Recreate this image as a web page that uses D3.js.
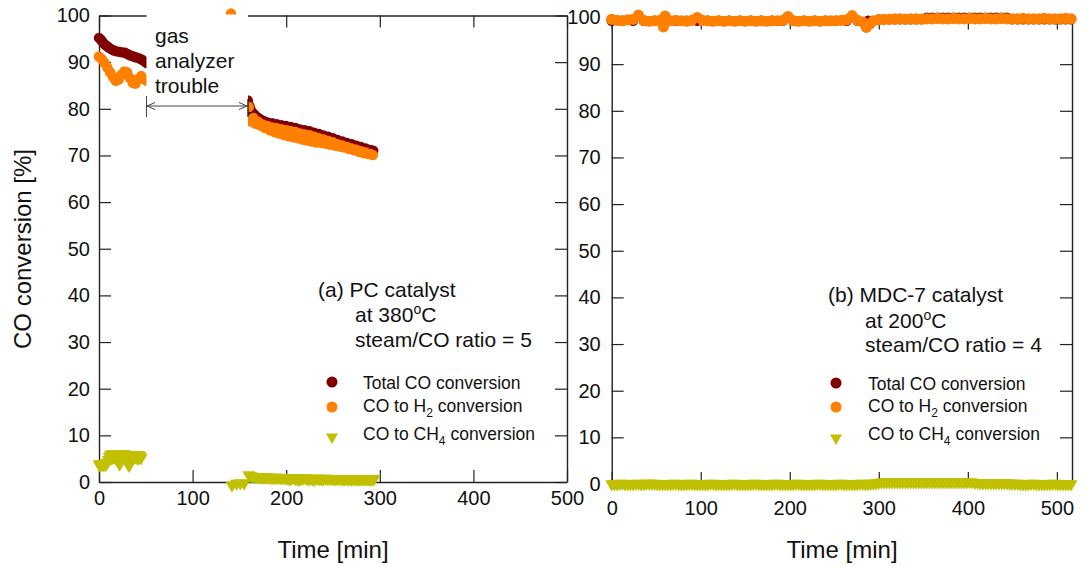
<!DOCTYPE html>
<html>
<head>
<meta charset="utf-8">
<script src="https://cdn.jsdelivr.net/npm/d3@7"></script>
<style>
  body { margin: 0; background: #fff; }
  svg { display: block; }
</style>
</head>
<body>
<svg id="chart" width="1088" height="567"></svg>
<script>
// ---------- data ----------
const xTicks = [0, 100, 200, 300, 400, 500];
const yTicks = [0, 10, 20, 30, 40, 50, 60, 70, 80, 90, 100];

// (a) PC catalyst, [time min, conversion %]
const leftTotal = [
  [0,95.2],[2,94.8],[4,94.3],[6,93.8],[8,93.5],[10,93.2],[13,92.8],[16,92.5],[19,92.3],[22,92.2],
  [25,92.1],[28,92.0],[31,91.7],[34,91.4],[37,91.2],[40,91.0],[43,90.8],[46,90.5],[49,90.1],[51,89.8],
  [159,81.8],[161,80.5],[163,79.5],[166,78.8],[169,78.2],[172,77.8],[176,77.4],[180,77.1],[185,76.9],
  [190,76.7],[195,76.5],[200,76.3],[205,76.1],[210,75.9],[215,75.6],[220,75.4],[225,75.2],[230,74.9],
  [235,74.6],[240,74.3],[245,74.0],[250,73.7],[255,73.3],[260,73.0],[265,72.7],[270,72.4],[275,72.1],
  [280,71.8],[285,71.5],[290,71.2],[293,71.0]
];
const leftH2 = [
  [0,91.2],[3,90.6],[6,89.8],[9,88.8],[12,87.8],[15,86.8],[18,86.0],[21,86.3],[24,87.3],[27,88.0],
  [30,87.8],[33,86.6],[36,85.6],[39,85.4],[42,86.4],[45,87.0],[48,86.4],[51,86.0],
  [141,100.4],
  [160,80.4],[162.5,77.3],[165,78.0],[167.5,76.8],[170,77.2],[172.5,76.4],[175,76.6],[177.5,75.9],
  [180,76.3],[182.5,75.4],[185,76.0],[187.5,75.0],[190,75.8],[192.5,74.7],[195,75.6],[197.5,74.4],
  [200,75.4],[202.5,74.1],[205,75.2],[207.5,73.9],[210,75.0],[212.5,73.7],[215,74.7],[217.5,73.4],
  [220,74.5],[222.5,73.2],[225,74.3],[227.5,73.0],[230,74.0],[232.5,72.8],[235,73.7],[237.5,72.7],
  [240,73.4],[242.5,72.5],[245,73.1],[247.5,72.3],[250,72.8],[252.5,72.1],[255,72.4],[257.5,71.9],
  [260,72.1],[262.5,71.7],[265,71.8],[267.5,71.4],[270,71.5],[272.5,71.1],[275,71.2],[277.5,70.8],
  [280,70.9],[282.5,70.5],[285,70.6],[287.5,70.3],[290,70.3],[292.5,70.1]
];
const leftCH4 = [
  [0,3.8],[1,3.6],[2,3.9],[3,3.7],[4,3.9],[5,3.7],[6,3.8],[7,3.7],[8,4.0],[9,4.2],[10,4.8],[11,5.4],
  [12,5.8],[13,5.0],[14,6.0],[15,5.2],[16,6.0],[17,5.4],[18,5.8],[19,4.8],[20,5.4],[21,4.2],[22,3.8],
  [23,4.6],[24,5.6],[25,6.0],[26,5.2],[27,6.0],[28,5.4],[29,5.8],[30,4.8],[31,4.0],[32,3.5],[33,3.8],
  [34,4.6],[35,5.4],[36,5.8],[37,5.2],[38,5.8],[39,5.4],[40,5.8],[41,5.0],[42,5.8],[43,5.2],[44,5.7],
  [45,5.2],
  [142,-0.7],[147,-0.3],[151,-0.2],[155,-0.3],
  [160,1.5],[162,1.3],[164,1.2],[166,1.1],[168,1.1],[170,1.1],[172,1.0],[174,1.0],[176,1.0],[178,1.0],
  [180,1.0],[182,1.0],[184,0.9],[186,0.9],[188,0.9],[190,1.0],[192,0.9],[194,0.9],[196,0.9],[198,0.9],
  [200,0.8],[202,0.8],[204,0.6],[206,0.8],[208,0.9],[210,0.7],[212,0.6],[214,0.5],[216,0.7],[218,0.8],
  [220,0.9],[222,0.7],[224,0.6],[226,0.8],[228,0.6],[230,0.5],[232,0.8],[234,0.7],[236,0.7],[238,0.6],
  [240,0.7],[242,0.8],[244,0.7],[246,0.7],[248,0.7],[250,0.7],[252,0.6],[254,0.7],[256,0.7],[258,0.7],
  [260,0.6],[262,0.6],[264,0.7],[266,0.6],[268,0.6],[270,0.6],[272,0.6],[274,0.6],[276,0.6],[278,0.6],
  [280,0.6],[282,0.6],[284,0.6],[286,0.6],[288,0.6],[290,0.6],[292,0.6],[294,0.7]
];

// (b) MDC-7 catalyst
const rightTotal = [
  [0,99.3],[12,99.3],[24,99.3],[36,99.3],[48,99.3],[60,99.3],[72,99.3],[84,99.3],[96,99.3],[108,99.3],
  [120,99.3],[132,99.3],[144,99.3],[156,99.3],[168,99.3],[180,99.3],[192,99.3],[204,99.3],[216,99.3],
  [228,99.3],[240,99.3],[252,99.3],[264,99.3],[276,99.3],[288,99.3],
  [300,99.6],[306,99.6],[312,99.6],[318,99.6],[324,99.6],[330,99.6],[336,99.6],[342,99.6],[348,99.7],
  [354,99.95],[360,99.95],[366,99.95],[372,99.95],[378,99.95],[384,99.95],[390,99.95],[396,99.95],
  [402,99.95],[408,99.95],[414,99.95],[420,99.95],[426,99.95],[432,99.95],[438,99.95],[444,99.95],
  [450,99.6],[456,99.6],[462,99.6],[468,99.6],[474,99.6],[480,99.6],[486,99.6],[492,99.6],[498,99.6],
  [504,99.6],[510,99.6],[516,99.6]
];
const rightH2 = [
  [0,99.6],[6,99.4],[12,99.3],[18,99.5],[24,99.6],[30,100.5],[36,99.4],[42,99.2],[48,99.3],[54,99.4],
  [58,98.0],[60,100.3],[66,99.3],[72,99.4],[78,99.3],[84,99.2],[90,99.4],[96,100.0],[102,99.4],[108,99.3],
  [114,99.2],[120,99.3],[126,99.2],[132,99.3],[138,99.2],[144,99.3],[150,99.2],[156,99.3],[162,99.2],
  [168,99.3],[174,99.2],[180,99.3],[186,99.3],[192,99.4],[198,100.2],[204,99.3],[210,99.2],[216,99.3],
  [222,99.2],[228,99.3],[234,99.2],[240,99.3],[246,99.3],[252,99.3],[258,99.4],[264,99.5],[270,100.4],
  [276,99.4],[282,99.0],[286,97.9],[290,98.6],[294,99.3],[300,99.5],[306,99.6],[312,99.6],[318,99.7],
  [324,99.7],[330,99.6],[336,99.7],[342,99.7],[348,99.6],[354,99.7],[360,99.7],[366,99.8],[372,99.7],
  [378,99.7],[384,99.8],[390,99.7],[396,99.7],[402,99.8],[408,99.7],[414,99.7],[420,99.8],[426,99.7],
  [432,99.7],[438,99.8],[444,99.7],[450,99.7],[456,99.7],[462,99.8],[468,99.7],[474,99.7],[480,99.7],
  [486,99.8],[492,99.7],[498,99.7],[504,99.7],[510,99.8],[516,99.7]
];
const rightCH4 = [
  [0,0.0],[3,0.0],[6,0.0],[9,0.1],[12,0.1],[15,0.0],[18,0.0],[21,0.0],[24,0.0],[27,0.1],[30,0.1],
  [33,0.0],[36,0.0],[39,0.1],[42,0.1],[45,0.1],[48,0.1],[51,0.0],[54,0.0],[57,0.0],[60,0.0],[63,0.0],
  [66,0.0],[69,0.1],[72,0.1],[75,0.0],[78,0.0],[81,0.0],[84,0.0],[87,0.1],[90,0.1],[93,0.0],[96,0.0],
  [99,0.0],[102,0.0],[105,0.0],[108,0.0],[111,0.1],[114,0.1],[117,0.0],[120,0.0],[123,0.0],[126,0.0],
  [129,0.0],[132,0.0],[135,0.1],[138,0.1],[141,0.0],[144,0.0],[147,0.0],[150,0.0],[153,0.0],[156,0.0],
  [159,0.1],[162,0.1],[165,0.0],[168,0.0],[171,0.0],[174,0.0],[177,0.0],[180,0.0],[183,0.1],[186,0.1],
  [189,0.0],[192,0.0],[195,0.0],[198,0.0],[201,0.0],[204,0.0],[207,0.1],[210,0.1],[213,0.0],[216,0.0],
  [219,0.0],[222,0.0],[225,0.0],[228,0.0],[231,0.1],[234,0.1],[237,0.0],[240,0.0],[243,0.0],[246,0.0],
  [249,0.0],[252,0.0],[255,0.1],[258,0.1],[261,0.0],[264,0.0],[267,0.0],[270,0.0],[273,0.0],[276,0.0],
  [279,0.1],[282,0.1],[285,0.0],[288,0.0],[291,0.1],[294,0.1],[297,0.2],[300,0.3],[303,0.4],[306,0.4],
  [309,0.4],[312,0.4],[315,0.4],[318,0.4],[321,0.4],[324,0.4],[327,0.4],[330,0.4],[333,0.4],[336,0.4],
  [339,0.4],[342,0.4],[345,0.4],[348,0.4],[351,0.4],[354,0.4],[357,0.4],[360,0.4],[363,0.4],[366,0.4],
  [369,0.4],[372,0.4],[375,0.4],[378,0.4],[381,0.4],[384,0.4],[387,0.4],[390,0.4],[393,0.4],[396,0.4],
  [399,0.4],[402,0.4],[405,0.4],[408,0.3],[411,0.3],[414,0.2],[417,0.2],[420,0.2],[423,0.2],[426,0.2],
  [429,0.2],[432,0.2],[435,0.2],[438,0.2],[441,0.2],[444,0.2],[447,0.1],[450,0.1],[453,0.1],[456,0.1],
  [459,0.0],[462,0.0],[465,0.0],[468,0.0],[471,0.1],[474,0.1],[477,0.0],[480,0.0],[483,0.0],[486,0.0],
  [489,0.0],[492,0.0],[495,0.1],[498,0.1],[501,0.0],[504,0.0],[507,0.0],[510,0.0],[513,0.0],[516,0.0]
];

const legendLabels = ["Total CO conversion", "CO to H", "CO to CH"];
const legendSubs = ["", "2", "4"];

// ---------- setup ----------
const FONT = '"Liberation Sans", Arial, Helvetica, sans-serif';
const C_TOTAL = "#800000", C_H2 = "#ff8000", C_CH4 = "#c0c000";
const svg = d3.select("#chart").attr("font-family", FONT);

const xL = d3.scaleLinear().domain([0, 500]).range([99, 567]);
const yL = d3.scaleLinear().domain([0, 100]).range([482, 15.5]);
const xR = d3.scaleLinear().domain([0, 517]).range([611.7, 1072]);
const yR = d3.scaleLinear().domain([0, 100]).range([484, 17.5]);

// frame with inward ticks on all four sides
function drawFrame(x, y, padX, padY) {
  const [x0, x1] = x.range();
  const [y0, y1] = y.range();
  const g = svg.append("g");
  const styleAxis = a => {
    a.attr("font-family", FONT).attr("font-size", 20);
    a.selectAll("path.domain").attr("stroke", "#222").attr("stroke-width", 1.4);
    a.selectAll(".tick line").attr("stroke", "#222").attr("stroke-width", 1.2);
    a.selectAll(".tick text").attr("fill", "#111");
  };
  g.append("g").attr("transform", `translate(0,${y0})`)
    .call(d3.axisBottom(x).tickValues(xTicks).tickSize(-12).tickSizeOuter(0).tickPadding(padX))
    .call(styleAxis);
  g.append("g").attr("transform", `translate(0,${y1})`)
    .call(d3.axisTop(x).tickValues(xTicks).tickSize(-12).tickSizeOuter(0).tickFormat(""))
    .call(styleAxis);
  g.append("g").attr("transform", `translate(${x0},0)`)
    .call(d3.axisLeft(y).tickValues(yTicks).tickSize(-12).tickSizeOuter(0).tickPadding(padY))
    .call(styleAxis);
  g.append("g").attr("transform", `translate(${x1},0)`)
    .call(d3.axisRight(y).tickValues(yTicks).tickSize(-12).tickSizeOuter(0).tickFormat(""))
    .call(styleAxis);
}

function drawDots(data, x, y, color, r) {
  svg.append("g").selectAll("circle")
    .data(data).join("circle")
      .attr("cx", d => x(d[0]))
      .attr("cy", d => y(d[1]))
      .attr("r", r)
      .attr("fill", color);
}

const tri = d3.symbol(d3.symbolTriangle, 72);
function drawTris(data, x, y, color) {
  svg.append("g").selectAll("path")
    .data(data).join("path")
      .attr("d", tri)
      .attr("transform", d => `translate(${x(d[0])},${y(d[1])}) rotate(180)`)
      .attr("fill", color);
}

function drawLegend(mx, tx, rows, lines, linesX, lineY) {
  // description lines
  lines.forEach((ln, i) => {
    const t = svg.append("text")
      .attr("x", i === 0 ? linesX[0] : linesX[1]).attr("y", lineY[i])
      .attr("font-size", 21).attr("fill", "#111");
    if (ln.sup) {
      t.append("tspan").text(ln.text);
      t.append("tspan").attr("dy", -8).attr("font-size", 14).text(ln.sup);
      t.append("tspan").attr("dy", 8).text(ln.after);
    } else {
      t.text(ln.text);
    }
  });
  // series entries
  const colors = [C_TOTAL, C_H2, C_CH4];
  rows.forEach((r, i) => {
    if (i < 2) {
      svg.append("circle").attr("cx", mx).attr("cy", r.my).attr("r", 5.5).attr("fill", colors[i]);
    } else {
      svg.append("path").attr("d", d3.symbol(d3.symbolTriangle, 62))
        .attr("transform", `translate(${mx},${r.my}) rotate(180)`).attr("fill", colors[i]);
    }
    const t = svg.append("text").attr("x", tx).attr("y", r.ty)
      .attr("font-size", 17.5).attr("fill", "#111");
    t.append("tspan").text(legendLabels[i]);
    if (legendSubs[i]) {
      t.append("tspan").attr("dy", 5).attr("font-size", 12).text(legendSubs[i]);
      t.append("tspan").attr("dy", -5).text(" conversion");
    }
  });
}

// ---------- left panel ----------
drawFrame(xL, yL, 9, 9);
drawDots(leftTotal, xL, yL, C_TOTAL, 5.2);
drawDots(leftH2, xL, yL, C_H2, 5.3);
drawTris(leftCH4, xL, yL, C_CH4);

// gas analyzer trouble box (masks data and top frame)
svg.append("rect").attr("x", 146.5).attr("y", 14.5).attr("width", 101.5).attr("height", 114).attr("fill", "#fff");
["gas", "analyzer", "trouble"].forEach((s, i) => {
  svg.append("text").attr("x", 155).attr("y", 43 + i * 25)
    .attr("font-size", 21).attr("fill", "#111").text(s);
});
const arr = svg.append("g").attr("stroke", "#444").attr("stroke-width", 1).attr("fill", "none");
arr.append("line").attr("x1", 146.5).attr("x2", 248).attr("y1", 106).attr("y2", 106);
arr.append("line").attr("x1", 146.5).attr("x2", 146.5).attr("y1", 96).attr("y2", 117);
arr.append("line").attr("x1", 248).attr("x2", 248).attr("y1", 99).attr("y2", 117).attr("stroke", "#222").attr("stroke-width", 1.4);
arr.append("path").attr("d", "M155,102.5 L147,106 L155,109.5");
arr.append("path").attr("d", "M239,102.5 L247,106 L239,109.5");

drawLegend(332, 363,
  [{ my: 382, ty: 389 }, { my: 407, ty: 412 }, { my: 437, ty: 440 }],
  [{ text: "(a) PC catalyst" }, { text: "at 380", sup: "o", after: "C" }, { text: "steam/CO ratio = 5" }],
  [318, 355], [297, 322, 347]);

// ---------- right panel ----------
drawFrame(xR, yR, 17, 11);
drawDots(rightTotal, xR, yR, C_TOTAL, 5.2);
drawDots(rightH2, xR, yR, C_H2, 5.6);
drawTris(rightCH4, xR, yR, C_CH4);

drawLegend(836, 868,
  [{ my: 383, ty: 390 }, { my: 407, ty: 412 }, { my: 438, ty: 440 }],
  [{ text: "(b) MDC-7 catalyst" }, { text: "at 200", sup: "o", after: "C" }, { text: "steam/CO ratio = 4" }],
  [828, 865], [302, 328, 352]);

// ---------- axis titles ----------
svg.append("text")
  .attr("transform", "translate(31,249) rotate(-90)")
  .attr("text-anchor", "middle").attr("font-size", 24).attr("fill", "#111")
  .text("CO conversion [%]");
svg.append("text").attr("x", 333).attr("y", 558)
  .attr("text-anchor", "middle").attr("font-size", 24).attr("fill", "#111").text("Time [min]");
svg.append("text").attr("x", 842).attr("y", 558)
  .attr("text-anchor", "middle").attr("font-size", 24).attr("fill", "#111").text("Time [min]");
</script>
</body>
</html>
